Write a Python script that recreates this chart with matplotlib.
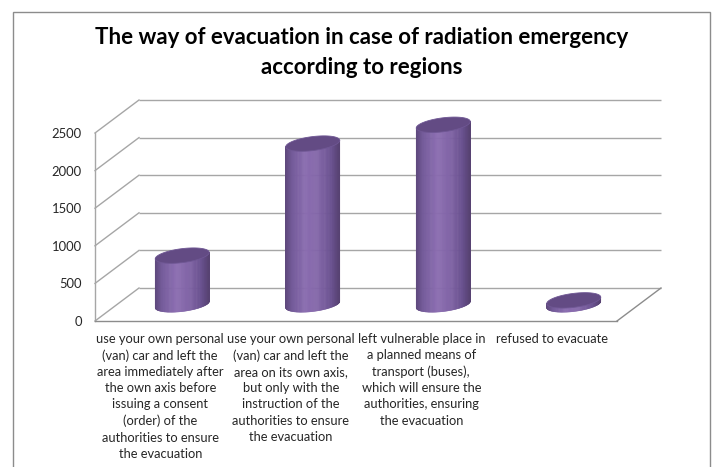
import numpy as np
import matplotlib
matplotlib.use("Agg")
import matplotlib.pyplot as plt
from matplotlib.patches import Polygon, Rectangle
from matplotlib.collections import PolyCollection
from matplotlib.colors import LinearSegmentedColormap

plt.rcParams['font.family'] = ['Lato', 'DejaVu Sans']

# ---- data ----
categories = [
    "use your own personal\n(van) car and left the\narea immediately after\nthe own axis before\nissuing a consent\n(order) of the\nauthorities to ensure\nthe evacuation",
    "use your own personal\n(van) car and left the\narea on its own axis,\nbut only with the\ninstruction of the\nauthorities to ensure\nthe evacuation",
    "left vulnerable place in\na planned means of\ntransport (buses),\nwhich will ensure the\nauthorities, ensuring\nthe evacuation",
    "refused to evacuate",
]
values = [650, 2140, 2390, 55]
yticks = [0, 500, 1000, 1500, 2000, 2500]
title_lines = ["The way of evacuation in case of radiation emergency",
               "according to regions"]

# ---- figure / front plane of the 3-D box ----
W, H = 714, 467
fig = plt.figure(figsize=(W / 100, H / 100), dpi=100)
fig.patch.set_facecolor("white")

left_px, right_px, zero_px, top_px = 95, 617, 321, 133
ax = fig.add_axes([left_px / W, (H - zero_px) / H,
                   (right_px - left_px) / W, (zero_px - top_px) / H])
n = len(categories)
ymax = yticks[-1]
ax.set_xlim(0, n)
ax.set_ylim(0, ymax)
for s in ax.spines.values():
    s.set_visible(False)
ax.set_facecolor("none")

px_x = (right_px - left_px) / n      # pixels per category unit
px_y = (zero_px - top_px) / ymax     # pixels per value unit
dep_x = 44 / px_x                    # depth of the box in data units
dep_y = 33 / px_y

grid_c = "#a6a6a6"
lw = 1.0
# back wall gridlines and side wall diagonals
for v in yticks:
    ax.plot([dep_x, n + dep_x], [v + dep_y, v + dep_y], color=grid_c, lw=lw,
            clip_on=False, zorder=1, solid_capstyle="butt")
    ax.plot([0, dep_x], [v, v + dep_y], color=grid_c, lw=lw, clip_on=False, zorder=1)
# front-left edge of side wall
ax.plot([0, 0], [0, ymax], color=grid_c, lw=lw, clip_on=False, zorder=1)
# floor edges
ax.plot([0, n], [0, 0], color="#8c8c8c", lw=lw, clip_on=False, zorder=1)
ax.plot([n, n + dep_x], [0, dep_y], color="#8c8c8c", lw=lw, clip_on=False, zorder=1)

# ---- cylinders ----
a = 27 / px_x          # horizontal radius
b = 7 / px_y           # vertical semi-axis of end ellipses
sh = 3.2 / px_y        # tilt of the ellipse (right end higher)

body_cmap = LinearSegmentedColormap.from_list("cyl", [
    (0.0, "#5e487c"), (0.12, "#735a99"), (0.38, "#8a6cb0"),
    (0.6, "#8265a8"), (0.85, "#6a5190"), (1.0, "#574272")])


def ellipse_pts(cx, cy, t):
    return np.column_stack([cx + a * np.cos(t), cy + b * np.sin(t) + sh * np.cos(t)])


base = dep_y / 2
nstrip = 90
for i, v in enumerate(values):
    cx = i + 0.5 + dep_x / 2
    top = base + v
    # shaded body built from thin vertical strips
    t = np.linspace(np.pi, 2 * np.pi, nstrip + 1)
    xs = cx + a * np.cos(t)
    ybot = base + b * np.sin(t) + sh * np.cos(t)
    ytop = top + sh * np.cos(t)
    quads = [[(xs[k], ybot[k]), (xs[k + 1], ybot[k + 1]),
              (xs[k + 1], ytop[k + 1]), (xs[k], ytop[k])] for k in range(nstrip)]
    frac = ((xs[:-1] + xs[1:]) / 2 - (cx - a)) / (2 * a)
    cols = body_cmap(frac)
    pc = PolyCollection(quads, facecolors=cols, edgecolors=cols, linewidths=0.4,
                        zorder=3, clip_on=False, antialiased=True)
    ax.add_collection(pc)
    cap = Polygon(ellipse_pts(cx, top, np.linspace(0, 2 * np.pi, 160)), closed=True,
                  fc="#634b84", ec="#6f5794", lw=0.6, zorder=4, clip_on=False)
    ax.add_patch(cap)

ax.set_xlim(0, n)
ax.set_ylim(0, ymax)

# ---- axes labels ----
ax.set_yticks(yticks)
ax.set_yticklabels([str(t) for t in yticks])
ax.tick_params(axis="y", length=0, pad=9.5, labelsize=9.4, labelcolor="#262626")
ax.set_xticks(np.arange(n) + 0.5)
ax.set_xticklabels(categories, linespacing=1.42)
ax.tick_params(axis="x", length=0, pad=8.5, labelsize=9.3, labelcolor="#262626")

# ---- title and chart border ----
for line, ypix in zip(title_lines, [38, 68]):
    fig.text(0.507, 1 - ypix / H, line, ha="center", va="center", fontsize=16,
             fontweight="bold", color="#000000")
fig.add_artist(Rectangle((13 / W, -0.05), (710 - 13) / W, 1 - 12 / H + 0.05,
                         transform=fig.transFigure, fill=False, ec="#8c8c8c", lw=1.0))

fig.savefig("out.png", dpi=100, facecolor="white")
